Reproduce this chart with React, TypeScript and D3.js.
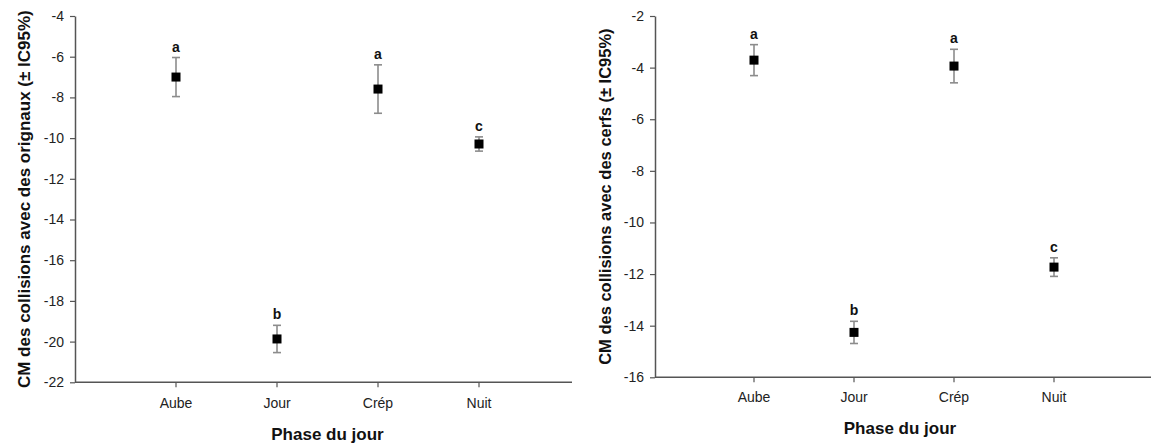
import React, { useEffect, useRef } from 'react';
import * as d3 from 'd3';

const phases = ['Aube', 'Jour', 'Crép', 'Nuit'];

// orignaux (left panel)
const moose = [-7.0, -19.87, -7.59, -10.29];
const mooseCI = [0.96, 0.67, 1.19, 0.35];
const mooseLetters = ['a', 'b', 'a', 'c'];
const mooseTicks = [-22, -20, -18, -16, -14, -12, -10, -8, -6, -4];

// cerfs (right panel)
const deer = [-3.71, -14.26, -3.94, -11.73];
const deerCI = [0.6, 0.43, 0.65, 0.36];
const deerLetters = ['a', 'b', 'a', 'c'];
const deerTicks = [-16, -14, -12, -10, -8, -6, -4, -2];

const W = 1151;
const H = 444;
const FONT = '"Liberation Sans", Arial, sans-serif';

interface Panel {
  values: number[];
  ci: number[];
  letters: string[];
  ticks: number[];
  yLabel: string;
  yLabelSize: number;
  x0: number;
  xEnd: number;
  firstCat: number;
  lastCat: number;
  yTop: number;
  yBottom: number;
  yLabelX: number;
  tickLabelY: number;
  titleY: number;
  titleShift: number;
}

const panels: Panel[] = [
  {
    values: moose,
    ci: mooseCI,
    letters: mooseLetters,
    ticks: mooseTicks,
    yLabel: 'CM des collisions avec des orignaux (± IC95%)',
    yLabelSize: 17,
    x0: 75,
    xEnd: 572,
    firstCat: 176,
    lastCat: 479,
    yTop: 16,
    yBottom: 382.3,
    yLabelX: 30,
    tickLabelY: 407.5,
    titleY: 440,
    titleShift: 4,
  },
  {
    values: deer,
    ci: deerCI,
    letters: deerLetters,
    ticks: deerTicks,
    yLabel: 'CM des collisions avec des cerfs (± IC95%)',
    yLabelSize: 16.5,
    x0: 655,
    xEnd: 1151,
    firstCat: 754,
    lastCat: 1054,
    yTop: 16,
    yBottom: 377.3,
    yLabelX: 611,
    tickLabelY: 402,
    titleY: 434,
    titleShift: -3,
  },
];

const App: React.FC = () => {
  const svgRef = useRef<SVGSVGElement>(null);

  useEffect(() => {
    if (!svgRef.current) return;
    const svg = d3.select(svgRef.current);
    svg.selectAll('*').remove();

    panels.forEach(p => {
      const g = svg.append('g');
      const yScale = d3
        .scaleLinear()
        .domain([p.ticks[0], p.ticks[p.ticks.length - 1]])
        .range([p.yBottom, p.yTop]);
      const xScale = d3.scalePoint<string>().domain(phases).range([p.firstCat, p.lastCat]);

      // y axis
      const yAxis = g
        .append('g')
        .attr('transform', `translate(${p.x0},0)`)
        .call(
          d3
            .axisLeft(yScale)
            .tickValues(p.ticks)
            .tickSize(5)
            .tickPadding(6)
            .tickSizeOuter(0)
            .tickFormat(d => String(d))
        );
      yAxis.select('.domain').attr('stroke', '#555').attr('stroke-width', 1.5);
      yAxis.selectAll('.tick line').attr('stroke', '#555').attr('stroke-width', 1.2);
      yAxis
        .selectAll('.tick text')
        .attr('fill', '#222')
        .style('font-family', FONT)
        .style('font-size', '14px');

      // x axis
      g.append('line')
        .attr('x1', p.x0)
        .attr('x2', p.xEnd)
        .attr('y1', p.yBottom)
        .attr('y2', p.yBottom)
        .attr('stroke', '#555')
        .attr('stroke-width', 1.5);
      phases.forEach(ph => {
        const x = xScale(ph) as number;
        g.append('line')
          .attr('x1', x)
          .attr('x2', x)
          .attr('y1', p.yBottom)
          .attr('y2', p.yBottom + 5)
          .attr('stroke', '#555')
          .attr('stroke-width', 1.2);
        g.append('text')
          .attr('x', x)
          .attr('y', p.tickLabelY)
          .attr('text-anchor', 'middle')
          .attr('fill', '#222')
          .style('font-family', FONT)
          .style('font-size', '14px')
          .text(ph);
      });

      // titles
      g.append('text')
        .attr('x', (p.x0 + p.xEnd) / 2 + p.titleShift)
        .attr('y', p.titleY)
        .attr('text-anchor', 'middle')
        .attr('fill', '#111')
        .style('font-family', FONT)
        .style('font-size', '17px')
        .style('font-weight', 'bold')
        .text('Phase du jour');

      g.append('text')
        .attr('transform', `translate(${p.yLabelX},${(p.yTop + p.yBottom) / 2}) rotate(-90)`)
        .attr('text-anchor', 'middle')
        .attr('fill', '#111')
        .style('font-family', FONT)
        .style('font-size', `${p.yLabelSize}px`)
        .style('font-weight', 'bold')
        .text(p.yLabel);

      // error bars, markers, letters
      p.values.forEach((v, i) => {
        const x = xScale(phases[i]) as number;
        const yHi = yScale(v + p.ci[i]);
        const yLo = yScale(v - p.ci[i]);
        const bar = g.append('g').attr('stroke', '#8c8c8c').attr('stroke-width', 1.6);
        bar.append('line').attr('x1', x).attr('x2', x).attr('y1', yHi).attr('y2', yLo);
        bar.append('line').attr('x1', x - 4).attr('x2', x + 4).attr('y1', yHi).attr('y2', yHi);
        bar.append('line').attr('x1', x - 4).attr('x2', x + 4).attr('y1', yLo).attr('y2', yLo);

        g.append('rect')
          .attr('x', x - 4.5)
          .attr('y', yScale(v) - 4.5)
          .attr('width', 9)
          .attr('height', 9)
          .attr('fill', '#000');

        g.append('text')
          .attr('x', x)
          .attr('y', yHi - 6)
          .attr('text-anchor', 'middle')
          .attr('fill', '#111')
          .style('font-family', FONT)
          .style('font-size', '14px')
          .style('font-weight', 'bold')
          .text(p.letters[i]);
      });
    });
  }, []);

  return (
    <svg
      ref={svgRef}
      width={W}
      height={H}
      style={{ position: 'absolute', left: 0, top: 0, background: '#fff', display: 'block' }}
    />
  );
};

export default App;
